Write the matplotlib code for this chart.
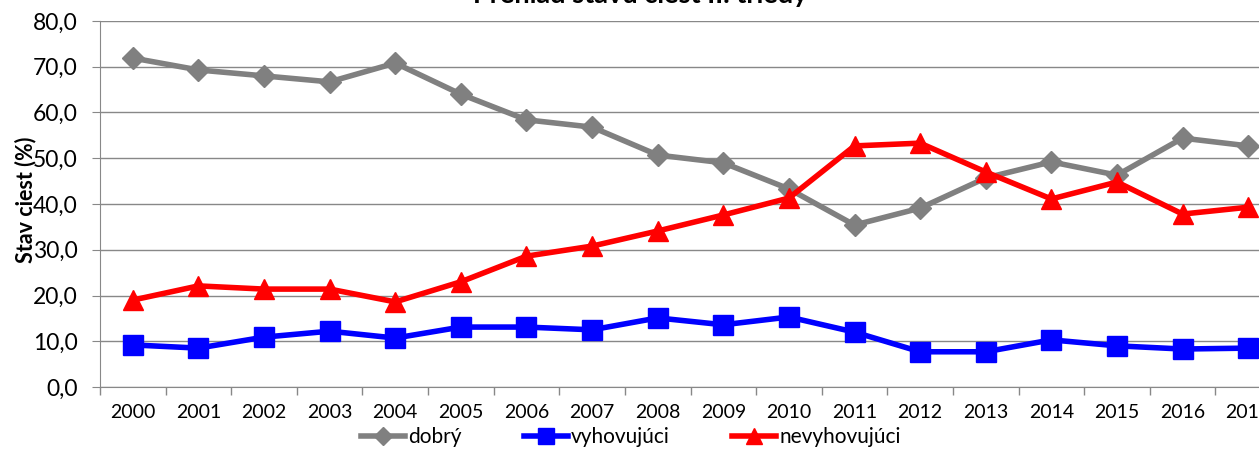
import matplotlib
matplotlib.use("Agg")
import matplotlib.pyplot as plt
from matplotlib.ticker import FuncFormatter, FixedLocator

years = [str(y) for y in range(2000, 2018)]
dobry = [71.9, 69.3, 68.0, 66.7, 70.8, 64.0, 58.4, 56.8, 50.7, 49.0, 43.3, 35.4, 39.1, 45.7, 49.2, 46.3, 54.4, 52.7]
vyhovujuci = [9.2, 8.5, 10.9, 12.2, 10.7, 13.1, 13.1, 12.5, 15.1, 13.6, 15.3, 12.0, 7.7, 7.7, 10.3, 9.0, 8.3, 8.5]
nevyhovujuci = [19.0, 22.1, 21.4, 21.4, 18.6, 23.0, 28.6, 30.8, 34.1, 37.6, 41.3, 52.7, 53.3, 47.0, 41.1, 44.8, 37.8, 39.3]
title = "Prehľad stavu ciest II. triedy"

plt.rcParams['font.family'] = ['Lato', 'DejaVu Sans']

W, H = 1259, 454
fig = plt.figure(figsize=(W / 100, H / 100), dpi=100)
left, right = 100, 1281
top, bottom = 21, 387
ax = fig.add_axes([left / W, 1 - bottom / H, (right - left) / W, (bottom - top) / H])

x = list(range(len(years)))
ax.plot(x, dobry, color='#808080', lw=4, marker='D', ms=11, label='dobrý', clip_on=False, zorder=3)
ax.plot(x, vyhovujuci, color='#0000FF', lw=4, marker='s', ms=14, label='vyhovujúci', clip_on=False, zorder=3)
ax.plot(x, nevyhovujuci, color='#FF0000', lw=4, marker='^', ms=14, label='nevyhovujúci', clip_on=False, zorder=3)

ax.set_xlim(-0.5, len(years) - 0.5)
ax.set_ylim(0, 80)
ax.set_yticks(range(0, 81, 10))
ax.yaxis.set_major_formatter(FuncFormatter(lambda v, p: f"{v:.1f}".replace('.', ',')))
ax.set_xticks(x)
ax.set_xticklabels(years)
ax.xaxis.set_minor_locator(FixedLocator([i - 0.5 for i in range(len(years) + 1)]))
ax.tick_params(axis='x', which='major', length=0, labelsize=14, pad=12)
ax.tick_params(axis='x', which='minor', length=6, color='#888888', width=1)
ax.tick_params(axis='y', length=6, color='#888888', labelsize=16.5, pad=10)

ax.grid(axis='y', color='#888888', lw=1)
ax.set_axisbelow(True)
for s in ['top', 'right']:
    ax.spines[s].set_visible(False)
for s in ['left', 'bottom']:
    ax.spines[s].set_color('#888888')

fig.text(26 / W, 1 - 200 / H, 'Stav ciest (%)', rotation=90, ha='center', va='center',
         fontsize=15.5, fontweight='bold')
fig.text(640 / W, 1 - 3 / H, title, ha='center', va='baseline', fontsize=19.5, fontweight='bold')

leg = fig.legend(loc='center', bbox_to_anchor=(631 / W, 1 - 437 / H), ncol=3, frameon=False,
                 fontsize=15, handlelength=2.1, handletextpad=0.15, columnspacing=3.0, markerscale=0.85)

fig.savefig('out.png', dpi=100)
